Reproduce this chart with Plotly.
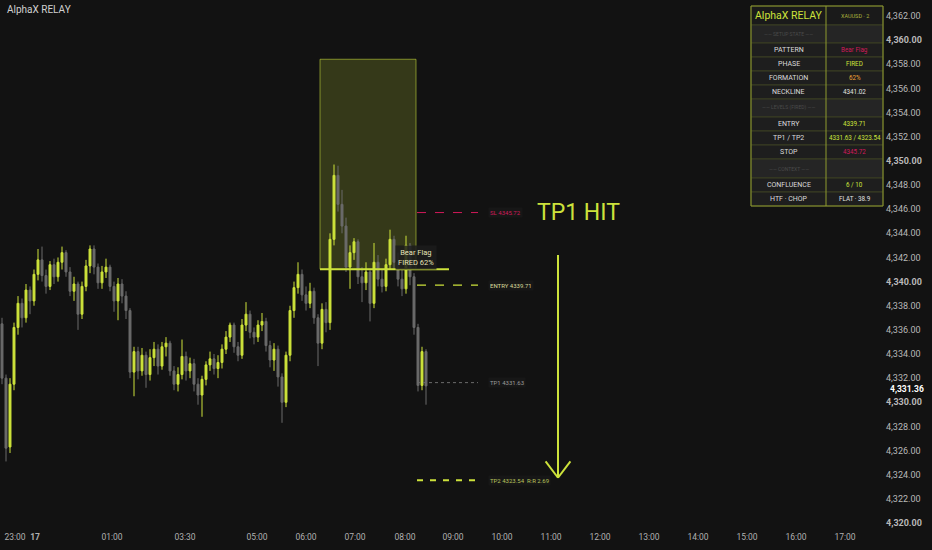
import plotly.graph_objects as go

# XAUUSD 2m candles, x = bar index (bar-spaced time axis)
bar_open = [
    4336.5, 4332.0, 4326.3, 4331.5, 4336.2, 4338.2, 4337.0, 4339.3, 4338.4, 4340.6,
    4341.8, 4340.5, 4339.6, 4341.4, 4340.4, 4341.6, 4342.4, 4340.8, 4339.2, 4339.8,
    4337.3, 4339.6, 4341.3, 4342.7, 4341.2, 4339.9, 4340.8, 4341.2, 4339.6, 4338.4,
    4339.8, 4338.8, 4337.6, 4332.5, 4334.2, 4332.6, 4333.9, 4332.3, 4333.7, 4334.4,
    4333.0, 4334.6, 4334.9, 4332.6, 4331.5, 4332.3, 4333.8, 4332.6, 4333.2, 4331.5,
    4330.6, 4331.9, 4333.1, 4333.6, 4332.8, 4333.3, 4334.4, 4335.4, 4336.4, 4334.6,
    4333.9, 4336.4, 4337.3, 4335.8, 4335.4, 4336.4, 4336.7, 4334.7, 4333.5, 4334.4,
    4332.1, 4330.0, 4333.9, 4337.6, 4339.5, 4340.6, 4338.9, 4338.2, 4339.2, 4337.0,
    4334.9, 4337.7, 4336.6, 4343.5, 4348.8, 4346.4, 4344.6, 4341.2, 4342.4, 4343.3,
    4340.4, 4339.9, 4340.8, 4338.2, 4341.6, 4340.2, 4339.6, 4341.4, 4343.5, 4341.6,
    4340.2, 4339.4, 4343.0, 4340.4, 4336.2, 4331.4, 4334.2,
]
bar_high = [
    4337.0, 4332.3, 4332.0, 4336.6, 4338.8, 4338.6, 4339.8, 4339.6, 4341.0, 4342.7,
    4342.9, 4341.0, 4341.7, 4341.9, 4342.0, 4342.9, 4342.6, 4341.2, 4340.4, 4340.0,
    4340.0, 4341.8, 4343.0, 4343.0, 4341.5, 4341.3, 4341.9, 4341.4, 4340.0, 4340.3,
    4340.2, 4339.2, 4337.8, 4334.6, 4334.6, 4334.5, 4334.2, 4334.4, 4335.0, 4334.8,
    4335.0, 4335.4, 4335.1, 4333.0, 4332.9, 4335.2, 4334.2, 4333.7, 4333.6, 4332.0,
    4332.2, 4333.4, 4334.2, 4334.0, 4333.9, 4334.8, 4335.9, 4336.6, 4336.6, 4335.0,
    4336.9, 4338.3, 4337.6, 4336.2, 4336.8, 4337.4, 4337.0, 4335.1, 4334.9, 4334.7,
    4332.4, 4334.2, 4338.0, 4340.0, 4341.6, 4341.0, 4339.6, 4339.9, 4339.5, 4337.3,
    4338.2, 4338.3, 4344.0, 4349.7, 4349.6, 4347.6, 4345.3, 4343.0, 4343.6, 4343.5,
    4341.2, 4341.6, 4341.0, 4343.2, 4342.2, 4341.0, 4341.9, 4344.3, 4343.8, 4342.4,
    4341.0, 4343.8, 4343.2, 4340.7, 4336.5, 4334.6, 4334.4,
]
bar_low = [
    4331.5, 4325.1, 4325.8, 4331.0, 4335.6, 4336.2, 4336.6, 4337.3, 4338.0, 4340.1,
    4340.0, 4339.0, 4339.3, 4339.8, 4340.0, 4341.0, 4340.4, 4338.8, 4338.4, 4336.0,
    4336.9, 4339.2, 4340.7, 4340.6, 4339.4, 4339.4, 4340.3, 4339.2, 4337.5, 4336.8,
    4338.2, 4336.9, 4332.0, 4330.5, 4331.9, 4332.2, 4331.2, 4331.8, 4333.0, 4332.3,
    4332.7, 4333.8, 4332.2, 4331.0, 4330.9, 4331.9, 4331.8, 4332.0, 4330.9, 4329.8,
    4328.8, 4331.4, 4332.6, 4332.3, 4332.0, 4332.8, 4334.0, 4335.0, 4334.1, 4333.4,
    4333.6, 4335.9, 4335.3, 4334.8, 4335.0, 4335.9, 4334.2, 4332.9, 4332.6, 4331.3,
    4328.3, 4329.6, 4333.4, 4337.0, 4339.0, 4338.4, 4337.6, 4337.8, 4336.5, 4333.0,
    4334.4, 4335.8, 4336.0, 4343.0, 4345.8, 4344.0, 4340.8, 4339.4, 4341.8, 4339.8,
    4338.3, 4339.3, 4336.7, 4337.8, 4339.6, 4339.1, 4339.2, 4341.0, 4341.0, 4339.6,
    4338.8, 4339.0, 4339.7, 4335.6, 4330.9, 4331.0, 4329.8,
]
bar_close = [
    4332.0, 4326.2, 4331.5, 4336.2, 4338.2, 4337.0, 4339.3, 4338.4, 4340.6, 4341.8,
    4340.5, 4339.6, 4341.4, 4340.4, 4341.6, 4342.4, 4340.8, 4339.2, 4339.8, 4337.3,
    4339.6, 4341.3, 4342.7, 4341.2, 4339.9, 4340.8, 4341.2, 4339.6, 4338.4, 4339.8,
    4338.8, 4337.6, 4332.5, 4334.2, 4332.6, 4333.9, 4332.3, 4333.7, 4334.4, 4333.0,
    4334.6, 4334.9, 4332.6, 4331.5, 4332.3, 4333.8, 4332.6, 4333.2, 4331.5, 4330.6,
    4331.9, 4333.1, 4333.6, 4332.8, 4333.3, 4334.4, 4335.4, 4336.4, 4334.6, 4333.9,
    4336.4, 4337.3, 4335.8, 4335.4, 4336.4, 4336.7, 4334.7, 4333.5, 4334.4, 4332.1,
    4330.0, 4333.9, 4337.6, 4339.5, 4340.6, 4338.9, 4338.2, 4339.2, 4337.0, 4334.9,
    4337.7, 4336.6, 4343.5, 4348.8, 4346.4, 4344.6, 4341.2, 4342.4, 4343.3, 4340.4,
    4339.9, 4340.8, 4338.2, 4341.6, 4340.2, 4339.6, 4341.4, 4343.5, 4341.6, 4340.2,
    4339.4, 4343.0, 4340.4, 4336.2, 4331.4, 4334.2, 4331.36,
]
bar_index = list(range(len(bar_close)))

x_tick_pos = [3.25, 8.25, 27.5, 45.75, 63.75, 76, 88.25, 100.75, 112.75, 125,
              137.25, 149.5, 161.75, 174, 186.25, 198.5, 210.75]
x_tick_text = ["23:00", "<b>17</b>", "01:00", "03:30", "05:00", "06:00", "07:00", "08:00",
               "09:00", "10:00", "11:00", "12:00", "13:00", "14:00", "15:00", "16:00", "17:00"]
y_tick_vals = list(range(4320, 4364, 2))

# pattern levels
FLAG_START, FLAG_END = 79.5, 103.5
FLAG_TOP = 4358.42
NECKLINE = 4341.02
ENTRY = 4339.71
STOP = 4345.72
TP1 = 4331.63
TP2 = 4323.54
RR = 2.69
LAST = 4331.36

# table contents
table_labels = ["SETUP STATE", "PATTERN", "PHASE", "FORMATION", "NECKLINE", "LEVELS (FIRED)",
                "ENTRY", "TP1 / TP2", "STOP", "CONTEXT", "CONFLUENCE", "HTF · CHOP"]
table_values = [None, "Bear Flag", "FIRED", "62%", "4341.02", None,
                "4339.71", "4331.63 / 4323.54", "4345.72", None, "6 / 10", "FLAT · 38.9"]

BG = "#121212"
LIME = "#cde23b"
GRAY = "#6a6a6a"
RED = "#d01a5a"
ORANGE = "#f0a234"
value_colors = [None, RED, LIME, ORANGE, "#e2e2e2", None, LIME, LIME, RED, None, LIME, "#e2e2e2"]

PLOT_W, PLOT_H = 885, 530
FONT = "Roboto"


def px_x(px):
    return px / PLOT_W


def px_y(py):
    return 1 - py / PLOT_H


def cell_text(xpx, ypx, text, size, color):
    return dict(x=px_x(xpx), y=px_y(ypx), xref="paper", yref="paper", text=text, showarrow=False,
                xanchor="center", yanchor="middle", font=dict(family=FONT, size=size, color=color))


fig = go.Figure()
fig.add_trace(go.Candlestick(
    x=bar_index, open=bar_open, high=bar_high, low=bar_low, close=bar_close,
    increasing=dict(line=dict(color=LIME, width=1), fillcolor=LIME),
    decreasing=dict(line=dict(color=GRAY, width=1), fillcolor=GRAY),
    whiskerwidth=0, showlegend=False, hoverinfo="skip",
))

shapes = []
annotations = []

# flag box + neckline
shapes.append(dict(type="rect", xref="x", yref="y", x0=FLAG_START, x1=FLAG_END, y0=NECKLINE, y1=FLAG_TOP,
                   fillcolor="rgba(205,226,59,0.19)", line=dict(color="rgba(205,226,59,0.55)", width=1), layer="below"))
shapes.append(dict(type="line", xref="x", yref="y", x0=FLAG_START, x1=111.75, y0=NECKLINE, y1=NECKLINE,
                   line=dict(color=LIME, width=2)))

# trade levels
level_x0, level_x1 = 103.75, 119
levels = [
    (STOP, RED, "dash", 1, f"SL {STOP:.2f}", RED),
    (ENTRY, LIME, "dash", 1.3, f"ENTRY {ENTRY:.2f}", "#d8dc9a"),
    (TP1, "#6a6a6a", "dot", 1, f"TP1 {TP1:.2f}", "#9a9a9a"),
    (TP2, LIME, "6px,7px", 2, f"TP2 {TP2:.2f}  R:R {RR:.2f}", "#b8c25a"),
]
for lvl, col, dash, w, txt, tcol in levels:
    shapes.append(dict(type="line", xref="x", yref="y", x0=level_x0, x1=level_x1, y0=lvl, y1=lvl,
                       line=dict(color=col, width=w, dash=dash)))
    annotations.append(dict(x=121.5, y=lvl, xref="x", yref="y", text=txt, showarrow=False,
                            xanchor="left", yanchor="middle", bgcolor="#171717",
                            font=dict(family=FONT, size=6, color=tcol)))

annotations.append(dict(x=103.5, y=4342.0, xref="x", yref="y", text="Bear Flag<br>FIRED 62%",
                        showarrow=False, bgcolor="rgba(28,28,28,0.85)", borderpad=2,
                        font=dict(family=FONT, size=7.5, color="#e6e3b8")))

# TP1 HIT + arrow
annotations.append(dict(x=144, y=STOP, xref="x", yref="y", text="TP1 HIT", showarrow=False,
                        font=dict(family=FONT, size=23, color=LIME)))
ARROW_X, ARROW_TOP, ARROW_TIP = 139, 4342.2, 4323.75
shapes.append(dict(type="line", xref="x", yref="y", x0=ARROW_X, x1=ARROW_X, y0=ARROW_TOP, y1=ARROW_TIP,
                   line=dict(color=LIME, width=2)))
for side in (-1, 1):
    shapes.append(dict(type="line", xref="x", yref="y", x0=ARROW_X + side * 3.1, x1=ARROW_X,
                       y0=ARROW_TIP + 1.35, y1=ARROW_TIP, line=dict(color=LIME, width=2)))

# title
annotations.append(dict(x=px_x(5), y=px_y(10), xref="paper", yref="paper", text="AlphaX RELAY",
                        showarrow=False, xanchor="left", yanchor="middle",
                        font=dict(family=FONT, size=10, color="#d0d0d0")))

# last price label (nudged down a touch so it clears the 4,332 tick)
annotations.append(dict(x=1, y=LAST, xref="paper", yref="y", text=f"<b>{LAST:,.2f}</b>", showarrow=False,
                        xanchor="left", yanchor="middle", xshift=3, yshift=-3,
                        font=dict(family=FONT, size=8.5, color="#ffffff")))

# status table
row_edges = [6, 25, 43, 57, 71, 85, 99, 117, 131, 145, 159, 178, 192, 206]
tx0, tmid, tx1 = 751, 826, 883
border = "#8e9a2e"
for i in range(len(row_edges) - 1):
    top, bot = row_edges[i], row_edges[i + 1]
    section = i > 0 and table_values[i - 1] is None
    fill = "#1a1a1a" if i == 0 else ("#252525" if section else "#1e1e1e")
    shapes.append(dict(type="rect", xref="paper", yref="paper", x0=px_x(tx0), x1=px_x(tx1),
                       y0=px_y(bot), y1=px_y(top), fillcolor=fill, line=dict(color="#3b3e22", width=1)))
    ymid = (top + bot) / 2
    lx, vx = (tx0 + tmid) / 2, (tmid + tx1) / 2
    if i == 0:
        annotations.append(cell_text(lx, ymid, "AlphaX RELAY", 10.5, LIME))
        annotations.append(cell_text(vx, ymid, "XAUUSD · 2", 5.5, "#aab33c"))
        continue
    label = table_labels[i - 1]
    if section:
        annotations.append(cell_text(lx, ymid, f"—— {label} ——", 5, "#4a4a4a"))
    else:
        annotations.append(cell_text(lx, ymid, label, 7, "#dadada"))
        annotations.append(cell_text(vx, ymid, table_values[i - 1], 6.3, value_colors[i - 1]))
shapes.append(dict(type="line", xref="paper", yref="paper", x0=px_x(tmid), x1=px_x(tmid),
                   y0=px_y(row_edges[-1]), y1=px_y(row_edges[0]), line=dict(color=border, width=1)))
shapes.append(dict(type="rect", xref="paper", yref="paper", x0=px_x(tx0), x1=px_x(tx1),
                   y0=px_y(row_edges[-1]), y1=px_y(row_edges[0]), line=dict(color=border, width=1)))

y_tick_text = [f"<b>{v:,.2f}</b>" if v % 10 == 0 else f"{v:,.2f}" for v in y_tick_vals]

fig.update_layout(
    width=932, height=550,
    margin=dict(l=0, r=47, t=0, b=20),
    paper_bgcolor=BG, plot_bgcolor=BG,
    shapes=shapes, annotations=annotations,
    font=dict(family=FONT, color="#b8b8b8"),
    xaxis=dict(range=[-0.5, 220.75], rangeslider=dict(visible=False), showgrid=False, zeroline=False,
               tickmode="array", tickvals=x_tick_pos, ticktext=x_tick_text,
               tickfont=dict(size=8.5, color="#b0b0b0"), ticks="", showline=False),
    yaxis=dict(range=[4319.42, 4363.33], side="right", showgrid=False, zeroline=False,
               tickmode="array", tickvals=y_tick_vals, ticktext=y_tick_text,
               tickfont=dict(size=9, color="#b8b8b8"), ticks="", showline=False),
)

# drop the page's default body margin so the chart fills the window
fig.write_html("out.html", config={"displayModeBar": False},
               post_script="document.body.style.margin='0';")
